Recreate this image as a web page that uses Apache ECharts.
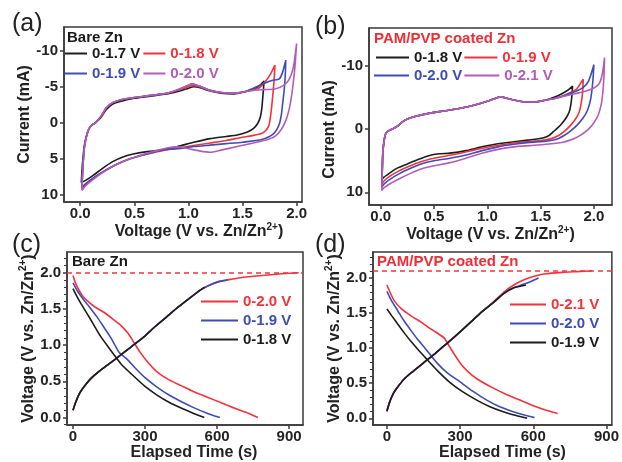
<!DOCTYPE html>
<html><head><meta charset="utf-8">
<script src="https://cdn.jsdelivr.net/npm/echarts@6/dist/echarts.min.js"></script>
<style>html,body{margin:0;padding:0;background:#fff}#c{width:622px;height:462px}</style>
</head><body><div id="c"></div>
<script>
// ---------- tick labels ----------
const cvVoltTicks = [0, 0.5, 1.0, 1.5, 2.0];
const cvCurrTicksA = [-10, -5, 0, 5, 10];
const cvCurrTicksB = [-10, 0, 10];
const timeTicks = [0, 300, 600, 900];
const gcdVoltTicks = [0, 0.5, 1.0, 1.5, 2.0];
const gcdMinorTicksC = [-0.1, 0.1, 0.2, 0.3, 0.4, 0.6, 0.7, 0.8, 0.9, 1.1, 1.2, 1.3, 1.4, 1.6, 1.7, 1.8, 1.9, 2.1, 2.2];
const gcdMinorTicksD = [0.1, 0.2, 0.3, 0.4, 0.6, 0.7, 0.8, 0.9, 1.1, 1.2, 1.3, 1.4, 1.6, 1.7, 1.8, 1.9, 2.1, 2.2, 2.3];
const cutoffC = 2.0;
const cutoffD = 2.1;

// ---------- (a) CV, bare Zn : [V, mA] ----------
const cvA_17 = [[0.01,8.3],[0.02,5.8],[0.04,3.0],[0.07,1.2],[0.1,0.4],[0.14,0.0],[0.17,-0.4],[0.2,-0.9],[0.24,-1.8],[0.3,-2.6],[0.38,-3.0],[0.5,-3.4],[0.65,-3.7],[0.8,-4.0],[0.92,-4.4],[1.0,-4.8],[1.05,-5.0],[1.1,-4.9],[1.2,-4.4],[1.3,-4.1],[1.42,-4.0],[1.52,-4.3],[1.6,-4.7],[1.66,-5.2],[1.7,-5.8],
  [1.69,-4.0],[1.68,-2.2],[1.665,-0.8],[1.64,0.1],[1.6,0.8],[1.54,1.3],[1.45,1.7],[1.35,1.9],[1.2,2.2],[1.05,2.7],[0.9,3.3],[0.75,3.8],[0.62,4.0],[0.5,4.3],[0.4,4.7],[0.3,5.4],[0.2,6.4],[0.12,7.3],[0.05,8.0],[0.01,8.3]];
const cvA_18 = [[0.015,9.1],[0.025,6.0],[0.04,3.2],[0.07,1.2],[0.1,0.4],[0.14,0.0],[0.17,-0.5],[0.2,-1.0],[0.24,-2.0],[0.3,-2.8],[0.38,-3.2],[0.5,-3.5],[0.65,-3.8],[0.8,-4.1],[0.92,-4.6],[1.0,-5.0],[1.04,-5.2],[1.1,-5.0],[1.2,-4.5],[1.3,-4.2],[1.42,-4.1],[1.52,-4.3],[1.6,-4.6],[1.66,-4.9],[1.72,-5.9],[1.76,-6.8],[1.8,-8.0],
  [1.79,-5.5],[1.775,-3.0],[1.76,-1.0],[1.745,0.3],[1.72,1.0],[1.68,1.45],[1.6,1.75],[1.5,2.0],[1.35,2.45],[1.2,2.8],[1.05,3.15],[0.9,3.5],[0.75,3.9],[0.6,4.4],[0.46,5.0],[0.32,5.9],[0.2,6.9],[0.1,7.9],[0.04,8.7],[0.015,9.1]];
const cvA_19 = [[0.015,9.0],[0.025,6.0],[0.04,3.2],[0.07,1.2],[0.1,0.4],[0.14,0.0],[0.17,-0.5],[0.2,-1.1],[0.24,-2.1],[0.3,-2.8],[0.38,-3.2],[0.5,-3.5],[0.65,-3.8],[0.8,-4.1],[0.92,-4.7],[1.0,-5.2],[1.03,-5.4],[1.1,-5.1],[1.2,-4.5],[1.3,-4.2],[1.42,-4.1],[1.52,-4.3],[1.6,-4.8],[1.66,-5.2],[1.72,-5.6],[1.78,-5.9],[1.84,-6.1],[1.87,-7.0],[1.9,-8.7],
  [1.895,-6.5],[1.885,-4.5],[1.87,-2.5],[1.86,-1.2],[1.84,0.2],[1.8,1.3],[1.75,1.9],[1.66,2.4],[1.5,2.7],[1.35,2.9],[1.2,3.1],[1.05,3.3],[0.9,3.6],[0.75,3.8],[0.6,4.4],[0.46,5.0],[0.32,5.9],[0.2,6.9],[0.1,7.9],[0.04,8.6],[0.015,9.0]];
const cvA_20 = [[0.015,9.4],[0.025,6.2],[0.04,3.3],[0.07,1.2],[0.1,0.4],[0.14,0.0],[0.17,-0.5],[0.2,-1.1],[0.24,-2.1],[0.3,-2.8],[0.38,-3.2],[0.5,-3.5],[0.65,-3.8],[0.8,-4.1],[0.92,-4.7],[1.0,-5.2],[1.03,-5.4],[1.1,-5.1],[1.2,-4.5],[1.3,-4.2],[1.42,-4.1],[1.52,-4.3],[1.6,-4.5],[1.7,-4.6],[1.8,-4.7],[1.88,-5.2],[1.93,-6.0],[1.97,-7.7],[2.0,-11.0],
  [1.99,-8.8],[1.98,-7.0],[1.965,-5.0],[1.95,-3.4],[1.93,-1.8],[1.9,-0.3],[1.86,0.9],[1.8,1.9],[1.72,2.4],[1.6,2.8],[1.45,3.3],[1.3,3.8],[1.2,4.1],[1.1,3.9],[1.0,3.6],[0.9,3.35],[0.8,3.5],[0.7,3.9],[0.6,4.3],[0.46,5.0],[0.32,5.9],[0.2,7.0],[0.1,8.1],[0.04,8.9],[0.015,9.4]];

// ---------- (b) CV, PAM/PVP coated Zn : [V, mA] ----------
const cvB_18 = [[0.01,8.0],[0.015,6.0],[0.02,3.5],[0.035,1.5],[0.05,0.6],[0.08,0.2],[0.12,-0.1],[0.16,-0.5],[0.2,-1.1],[0.25,-1.6],[0.32,-2.0],[0.45,-2.5],[0.6,-2.9],[0.75,-3.3],[0.9,-3.9],[1.0,-4.4],[1.08,-4.9],[1.12,-5.1],[1.18,-4.9],[1.25,-4.6],[1.35,-4.3],[1.45,-4.3],[1.55,-4.6],[1.62,-5.0],[1.7,-5.6],[1.76,-6.2],[1.8,-6.8],
  [1.795,-5.5],[1.785,-4.0],[1.77,-2.8],[1.74,-1.8],[1.7,-0.9],[1.66,-0.2],[1.62,0.4],[1.58,1.0],[1.52,1.4],[1.4,1.7],[1.25,2.0],[1.1,2.3],[0.95,2.8],[0.8,3.4],[0.65,3.8],[0.55,3.9],[0.45,4.2],[0.35,4.8],[0.25,5.5],[0.15,6.2],[0.08,7.0],[0.03,7.6],[0.01,8.0]];
const cvB_19 = [[0.01,8.7],[0.015,6.2],[0.02,3.6],[0.035,1.5],[0.05,0.6],[0.08,0.2],[0.12,-0.1],[0.16,-0.5],[0.2,-1.1],[0.25,-1.6],[0.32,-2.0],[0.45,-2.5],[0.6,-2.9],[0.75,-3.3],[0.9,-3.9],[1.0,-4.4],[1.08,-4.9],[1.12,-5.1],[1.18,-4.9],[1.25,-4.6],[1.35,-4.3],[1.45,-4.3],[1.55,-4.6],[1.62,-4.8],[1.7,-5.2],[1.78,-5.8],[1.84,-6.4],[1.9,-7.9],
  [1.895,-6.0],[1.88,-4.0],[1.86,-2.6],[1.82,-1.4],[1.77,-0.4],[1.72,0.4],[1.67,1.0],[1.6,1.5],[1.5,1.8],[1.35,2.0],[1.2,2.3],[1.05,2.7],[0.9,3.2],[0.75,3.8],[0.6,4.3],[0.45,4.8],[0.35,5.3],[0.25,6.0],[0.15,6.8],[0.08,7.5],[0.03,8.2],[0.01,8.7]];
const cvB_20 = [[0.01,9.2],[0.015,6.4],[0.02,3.7],[0.035,1.5],[0.05,0.6],[0.08,0.2],[0.12,-0.1],[0.16,-0.5],[0.2,-1.1],[0.25,-1.6],[0.32,-2.0],[0.45,-2.5],[0.6,-2.9],[0.75,-3.3],[0.9,-3.9],[1.0,-4.4],[1.08,-4.9],[1.12,-5.1],[1.18,-4.9],[1.25,-4.6],[1.35,-4.3],[1.45,-4.3],[1.55,-4.6],[1.62,-4.8],[1.72,-5.3],[1.82,-5.9],[1.9,-6.6],[1.95,-7.6],[2.0,-10.2],
  [1.99,-7.5],[1.97,-4.8],[1.94,-3.0],[1.9,-1.8],[1.84,-0.6],[1.78,0.3],[1.72,1.0],[1.65,1.6],[1.55,1.9],[1.4,2.1],[1.25,2.4],[1.1,2.8],[0.95,3.4],[0.8,4.1],[0.65,4.6],[0.5,5.0],[0.38,5.5],[0.28,6.2],[0.18,7.0],[0.09,7.9],[0.03,8.7],[0.01,9.2]];
const cvB_21 = [[0.01,9.7],[0.015,6.6],[0.02,3.8],[0.035,1.5],[0.05,0.6],[0.08,0.2],[0.12,-0.1],[0.16,-0.5],[0.2,-1.1],[0.25,-1.6],[0.32,-2.0],[0.45,-2.5],[0.6,-2.9],[0.75,-3.3],[0.9,-3.9],[1.0,-4.4],[1.08,-4.9],[1.12,-5.1],[1.18,-4.9],[1.25,-4.6],[1.35,-4.3],[1.45,-4.3],[1.55,-4.6],[1.62,-4.8],[1.72,-5.2],[1.82,-5.6],[1.92,-6.0],[2.0,-6.5],[2.05,-7.2],[2.08,-8.8],[2.1,-11.3],
  [2.095,-8.5],[2.085,-6.0],[2.07,-4.0],[2.04,-2.2],[2.0,-1.0],[1.95,0.0],[1.88,0.9],[1.8,1.6],[1.7,2.1],[1.55,2.4],[1.4,2.6],[1.25,2.8],[1.1,3.2],[0.95,3.8],[0.8,4.6],[0.65,5.3],[0.5,5.8],[0.38,6.3],[0.28,7.0],[0.18,7.8],[0.09,8.6],[0.03,9.3],[0.01,9.7]];

// ---------- (c) GCD, bare Zn : [s, V] ----------
const chgC_20 = [[0,0.10],[10,0.2],[25,0.32],[45,0.42],[75,0.54],[110,0.64],[150,0.74],[190,0.84],[240,0.97],[290,1.1],[340,1.25],[390,1.39],[440,1.53],[490,1.66],[530,1.76],[570,1.83],[610,1.88],[660,1.91],[720,1.94],[800,1.965],[870,1.985],[940,2.0]];
const disC_20 = [[0,1.96],[10,1.86],[25,1.76],[40,1.68],[60,1.61],[90,1.53],[130,1.45],[170,1.35],[200,1.27],[230,1.16],[255,1.03],[280,0.9],[310,0.77],[350,0.63],[400,0.52],[450,0.44],[500,0.36],[560,0.28],[620,0.2],[680,0.12],[730,0.06],[770,0.0]];
const chgC_19 = [[0,0.10],[10,0.2],[25,0.32],[45,0.42],[75,0.54],[110,0.64],[150,0.74],[190,0.84],[240,0.97],[290,1.1],[340,1.25],[390,1.39],[440,1.53],[490,1.66],[530,1.76],[570,1.83],[610,1.88],[645,1.9]];
const disC_19 = [[0,1.86],[20,1.74],[46,1.62],[75,1.5],[102,1.38],[130,1.24],[158,1.1],[192,0.9],[227,0.8],[260,0.68],[300,0.55],[350,0.42],[400,0.31],[450,0.22],[500,0.14],[561,0.055],[590,0.02],[612,0.0]];
const chgC_18 = [[0,0.10],[10,0.2],[25,0.32],[45,0.42],[75,0.54],[110,0.64],[150,0.74],[190,0.84],[240,0.97],[290,1.1],[340,1.25],[390,1.39],[440,1.53],[490,1.66],[530,1.76],[548,1.8]];
const disC_18 = [[0,1.78],[15,1.68],[32,1.58],[52,1.47],[74,1.35],[95,1.23],[115,1.12],[150,0.96],[170,0.87],[200,0.74],[250,0.58],[300,0.43],[350,0.31],[400,0.21],[450,0.13],[500,0.06],[530,0.02],[547,0.0]];

// ---------- (d) GCD, PAM/PVP coated Zn : [s, V] ----------
const chgD_21 = [[0,0.10],[10,0.22],[27,0.36],[45,0.45],[68,0.55],[100,0.65],[150,0.79],[200,0.93],[240,1.05],[290,1.2],[340,1.36],[390,1.52],[440,1.67],[480,1.8],[520,1.9],[560,1.97],[600,2.02],[650,2.06],[720,2.08],[780,2.09],[840,2.1]];
const disD_21 = [[0,1.90],[15,1.78],[31,1.67],[60,1.56],[99,1.46],[140,1.37],[168,1.3],[200,1.23],[236,1.14],[255,1.03],[277,0.91],[300,0.79],[331,0.67],[370,0.56],[436,0.43],[490,0.34],[545,0.26],[600,0.18],[650,0.12],[700,0.07]];
const chgD_20 = [[0,0.10],[10,0.22],[27,0.36],[45,0.45],[68,0.55],[100,0.65],[150,0.79],[200,0.93],[240,1.05],[290,1.2],[340,1.36],[390,1.52],[440,1.66],[480,1.78],[520,1.86],[560,1.91],[590,1.95],[622,2.0]];
const disD_20 = [[0,1.81],[20,1.67],[45,1.53],[70,1.39],[99,1.25],[125,1.13],[154,1.01],[205,0.79],[250,0.64],[300,0.52],[350,0.39],[409,0.26],[460,0.17],[518,0.095],[570,0.04],[605,0.01]];
const chgD_19 = [[0,0.10],[10,0.22],[27,0.36],[45,0.45],[68,0.55],[100,0.65],[150,0.79],[200,0.93],[240,1.05],[290,1.2],[340,1.36],[390,1.52],[440,1.66],[480,1.78],[520,1.86],[570,1.9]];
const disD_19 = [[0,1.56],[20,1.46],[45,1.34],[75,1.2],[100,1.09],[130,0.97],[164,0.84],[210,0.67],[259,0.51],[310,0.38],[368,0.26],[420,0.17],[477,0.095],[530,0.04],[575,0.0]];

// ---------- styling ----------
const FONT = "'Liberation Sans', Arial, Helvetica, sans-serif";
const C_BLACK = '#1c1c1c', C_RED = '#f2333b', C_BLUE = '#3d4db5', C_PURPLE = '#b25cba';
const FRAME = '#3a3a3a';
const tickFont = {fontFamily: FONT, fontSize: 15, fontWeight: 'bold', color: '#222'};
const nameFont = {fontFamily: FONT, fontSize: 16, fontWeight: 'bold', color: '#222',
  rich: {sup: {fontFamily: FONT, fontSize: 10, fontWeight: 'bold', color: '#222', padding: [0, 0, 9, 0]}}};
const voltName = 'Voltage (V vs. Zn/Zn{sup|2+})';

const grids = [
  {left: 64, top: 27, width: 238, height: 175},
  {left: 369, top: 28, width: 243, height: 177},
  {left: 67, top: 252, width: 236, height: 175},
  {left: 373, top: 252, width: 239, height: 173}
];

function axis(o) {
  return {
    gridIndex: o.grid, type: 'value', min: o.min, max: o.max, inverse: !!o.inverse,
    position: o.position,
    axisLine: {show: true, onZero: false, lineStyle: {color: FRAME, width: 1.5}},
    axisTick: {show: true, inside: false, length: 4, customValues: o.ticks, lineStyle: {color: FRAME, width: 1.5}},
    axisLabel: {show: true, customValues: o.ticks, margin: o.margin, formatter: o.fmt, ...tickFont},
    splitLine: {show: false},
    name: o.name, nameLocation: 'middle', nameGap: o.nameGap,
    nameTextStyle: Object.assign({}, nameFont, o.namePad ? {padding: o.namePad} : {})
  };
}
// second y axis on the same grid, moved onto the left frame, carrying the minor ticks
function minorAxis(grid, min, max, ticks) {
  return {gridIndex: grid, type: 'value', min: min, max: max, position: 'right', offset: -grids[grid].width,
    axisLine: {show: false, onZero: false}, axisLabel: {show: false}, splitLine: {show: false},
    axisTick: {show: true, inside: true, length: 3, customValues: ticks, lineStyle: {color: FRAME, width: 1}}};
}
const f1 = v => Number(v).toFixed(1);
const f0 = v => String(Math.round(v));

function line(name, color, data, xi, yi, extra) {
  return Object.assign({type: 'line', name: name, data: data, xAxisIndex: xi, yAxisIndex: yi,
    symbol: 'none', smooth: 0.2, silent: true, animation: false,
    lineStyle: {color: color, width: 1.6}, itemStyle: {color: color}}, extra || {});
}
function dashed(v) {
  return {markLine: {silent: true, symbol: 'none', animation: false, label: {show: false},
    lineStyle: {color: C_RED, width: 1.5, type: [5, 4]}, data: [{yAxis: v}]}};
}
function legend(items, left, top, w, orient, gap) {
  return {show: true, selectedMode: false, orient: orient || 'horizontal', left: left, top: top,
    icon: 'rect', itemWidth: w, itemHeight: 2, itemGap: gap, padding: 0,
    formatter: n => n.split('|')[0],
    textStyle: {fontFamily: FONT, fontSize: 15, fontWeight: 'bold'},
    data: items.map(it => ({name: it[0], textStyle: {color: it[1], fontFamily: FONT, fontSize: 15, fontWeight: 'bold'}}))};
}
function label(text, left, top, size, color, weight) {
  return {text: text, left: left, top: top, padding: 0,
    textStyle: {fontFamily: FONT, fontSize: size, fontWeight: weight || 'bold', color: color || '#222'}};
}

const option = {
  animation: false,
  title: [
    label('(a)', 12, 12, 25, '#222', 'normal'),
    label('(b)', 315, 15, 25, '#222', 'normal'),
    label('(c)', 12, 233, 25, '#222', 'normal'),
    label('(d)', 315, 233, 25, '#222', 'normal'),
    label('Bare Zn', 67, 30, 15, '#1a1a1a'),
    label('PAM/PVP coated Zn', 374, 31, 15, '#ee2e36'),
    label('Bare Zn', 72, 254, 15, '#1a1a1a'),
    label('PAM/PVP coated Zn', 377, 254, 15, '#ee2e36')
  ],
  legend: [
    legend([['0-1.7 V|a', C_BLACK], ['0-1.8 V|a', C_RED]], 65, 46, 22, 'horizontal', 3),
    legend([['0-1.9 V|a', C_BLUE], ['0-2.0 V|a', C_PURPLE]], 65, 66, 22, 'horizontal', 3),
    legend([['0-1.8 V|b', C_BLACK], ['0-1.9 V|b', C_RED]], 376, 50, 33, 'horizontal', 2),
    legend([['0-2.0 V|b', C_BLUE], ['0-2.1 V|b', C_PURPLE]], 374, 68, 35, 'horizontal', 2),
    legend([['0-2.0 V|c', C_RED], ['0-1.9 V|c', C_BLUE], ['0-1.8 V|c', C_BLACK]], 201, 294, 37, 'vertical', 4),
    legend([['0-2.1 V|d', C_RED], ['0-2.0 V|d', C_BLUE], ['0-1.9 V|d', C_BLACK]], 510, 297, 36, 'vertical', 4)
  ],
  grid: grids.map(g => Object.assign({show: true, borderColor: FRAME, borderWidth: 1.5, backgroundColor: 'transparent'}, g)),
  xAxis: [
    axis({grid: 0, min: -0.15, max: 2.05, ticks: cvVoltTicks, fmt: f1, margin: 4, name: voltName, nameGap: 14, position: 'bottom', namePad: [0, 0, 0, 32]}),
    axis({grid: 1, min: -0.11, max: 2.17, ticks: cvVoltTicks, fmt: f1, margin: 4, name: voltName, nameGap: 14, position: 'bottom'}),
    axis({grid: 2, min: -25, max: 958, ticks: timeTicks, fmt: f0, margin: 4, name: 'Elapsed Time (s)', nameGap: 13, position: 'bottom', namePad: [0, 0, 0, 18]}),
    axis({grid: 3, min: -57, max: 922, ticks: timeTicks, fmt: f0, margin: 4, name: 'Elapsed Time (s)', nameGap: 9, position: 'bottom', namePad: [0, 0, 0, 20]})
  ],
  yAxis: [
    axis({grid: 0, min: -13.3, max: 11, inverse: true, ticks: cvCurrTicksA, fmt: f0, margin: 6, name: 'Current (mA)', nameGap: 18, position: 'left'}),
    axis({grid: 1, min: -16, max: 12, inverse: true, ticks: cvCurrTicksB, fmt: f0, margin: 6, name: 'Current (mA)', nameGap: 28, position: 'left', namePad: [0, 26, 0, 0]}),
    axis({grid: 2, min: -0.105, max: 2.286, ticks: gcdVoltTicks, fmt: f1, margin: 6, name: voltName, nameGap: 27, position: 'left'}),
    axis({grid: 3, min: -0.095, max: 2.37, ticks: gcdVoltTicks, fmt: f1, margin: 6, name: voltName, nameGap: 24, position: 'left'}),
    minorAxis(2, -0.105, 2.286, gcdMinorTicksC),
    minorAxis(3, -0.095, 2.37, gcdMinorTicksD)
  ],
  series: [
    line('0-1.7 V|a', C_BLACK, cvA_17, 0, 0),
    line('0-1.8 V|a', C_RED, cvA_18, 0, 0),
    line('0-1.9 V|a', C_BLUE, cvA_19, 0, 0),
    line('0-2.0 V|a', C_PURPLE, cvA_20, 0, 0),
    line('0-1.8 V|b', C_BLACK, cvB_18, 1, 1),
    line('0-1.9 V|b', C_RED, cvB_19, 1, 1),
    line('0-2.0 V|b', C_BLUE, cvB_20, 1, 1),
    line('0-2.1 V|b', C_PURPLE, cvB_21, 1, 1),
    line('0-2.0 V|c', C_RED, chgC_20, 2, 2, dashed(cutoffC)),
    line('0-2.0 V|c', C_RED, disC_20, 2, 2),
    line('0-1.9 V|c', C_BLUE, chgC_19, 2, 2),
    line('0-1.9 V|c', C_BLUE, disC_19, 2, 2),
    line('0-1.8 V|c', C_BLACK, chgC_18, 2, 2),
    line('0-1.8 V|c', C_BLACK, disC_18, 2, 2),
    line('0-2.1 V|d', C_RED, chgD_21, 3, 3, dashed(cutoffD)),
    line('0-2.1 V|d', C_RED, disD_21, 3, 3),
    line('0-2.0 V|d', C_BLUE, chgD_20, 3, 3),
    line('0-2.0 V|d', C_BLUE, disD_20, 3, 3),
    line('0-1.9 V|d', C_BLACK, chgD_19, 3, 3),
    line('0-1.9 V|d', C_BLACK, disD_19, 3, 3)
  ]
};
const chart = echarts.init(document.getElementById('c'), null, {renderer: 'canvas'});
chart.setOption(option);
</script></body></html>
